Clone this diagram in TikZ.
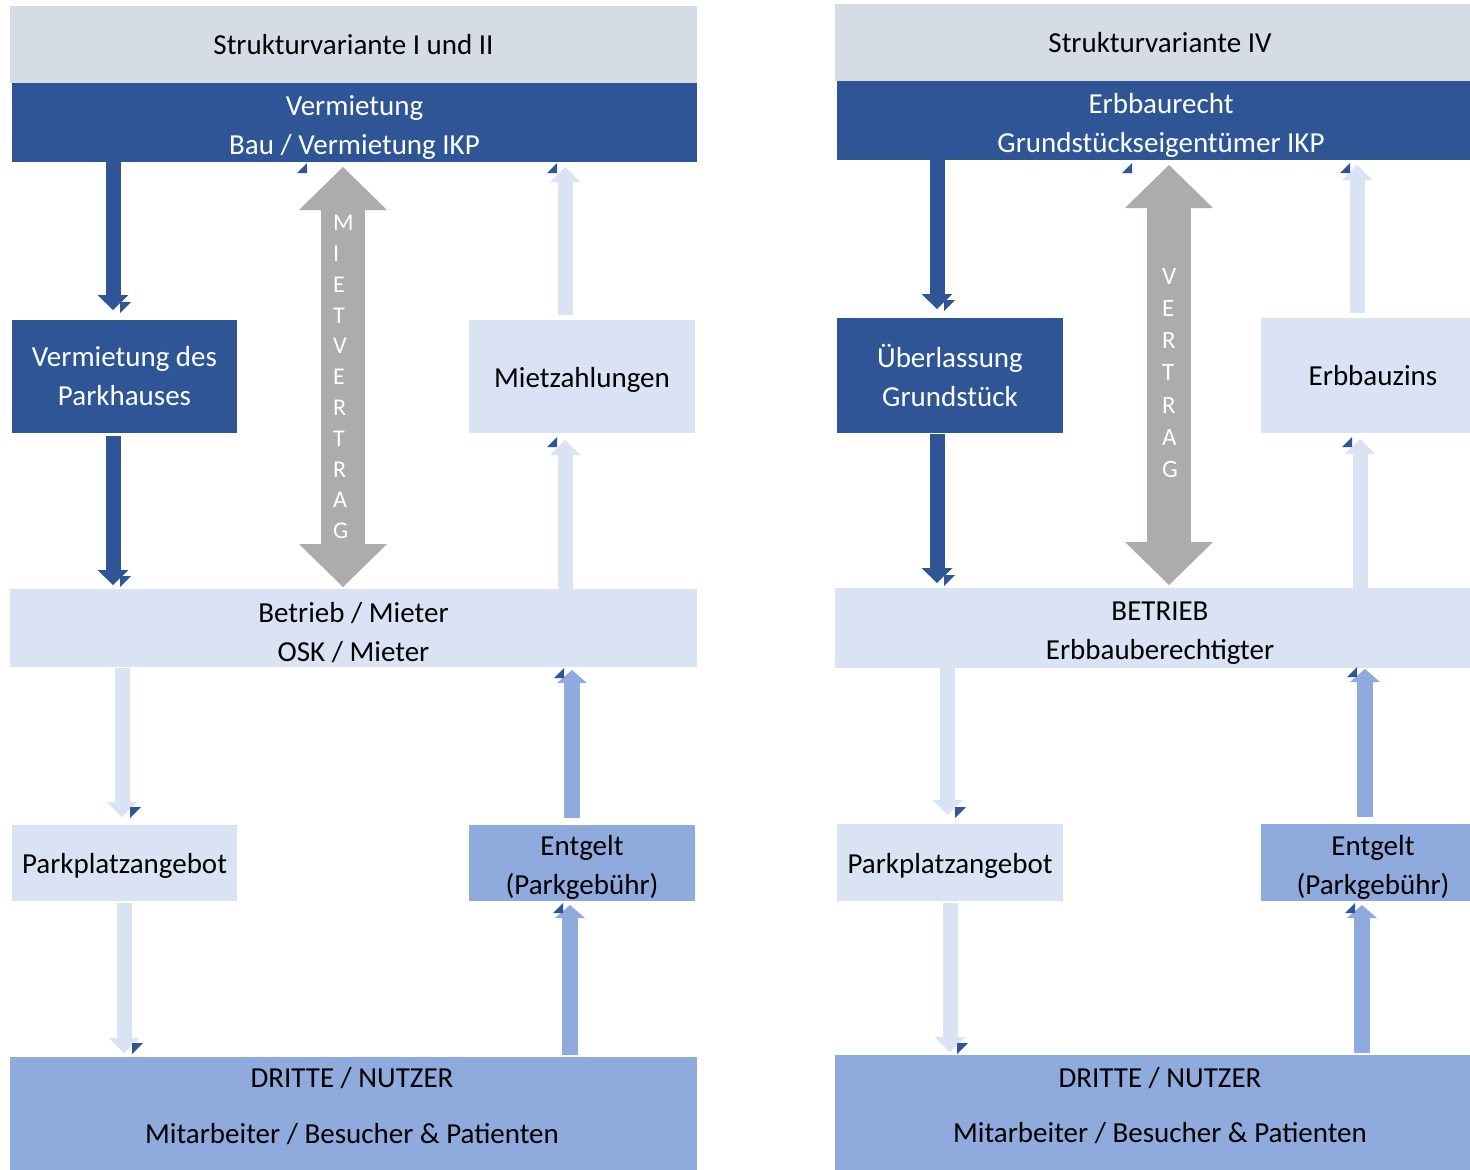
\documentclass[tikz,border=0pt]{standalone}
\usepackage{fontspec}
\setmainfont{Carlito}
\usetikzlibrary{arrows.meta,calc}
\definecolor{hdr}{HTML}{D6DCE5}
\definecolor{dblue}{HTML}{2F5597}
\definecolor{lblue}{HTML}{DAE3F3}
\definecolor{mblue}{HTML}{8FAADC}
\definecolor{garrow}{HTML}{AEABAB}
\newcommand\mytopstrut{\rule{0pt}{29pt}}
\begin{document}
\begin{tikzpicture}[x=1pt,y=-1pt,
  box/.style={rectangle, inner sep=0pt, outer sep=0pt, anchor=north west, align=center,
              font=\fontsize{29}{39}\selectfont},
  hdrbox/.style={box, fill=hdr, text=black},
  darkbox/.style={box, fill=dblue, text=white},
  lightbox/.style={box, fill=lblue, text=black},
  midbox/.style={box, fill=mblue, text=black},
  lbl/.style={inner sep=0pt, font=\fontsize{29}{39}\selectfont, text=black},
  vlbl/.style={inner sep=0pt, anchor=west, align=left, text=white},
  darr/.style={draw=dblue, line width=15pt, -{Triangle[width=31pt,length=15pt,line width=0pt]}},
  larr/.style={draw=lblue, line width=15pt, -{Triangle[width=30pt,length=15pt,line width=0pt]}},
  marr/.style={draw=mblue, line width=16pt, -{Triangle[width=30pt,length=13pt,line width=0pt]}},
  garr/.style={draw=garrow, line width=44pt,
     {Triangle[width=88pt,length=43pt,line width=0pt]}-{Triangle[width=88pt,length=43pt,line width=0pt]}},
  anchortri/.style={fill=dblue},
]
\clip (0,0) rectangle (1470,1170);
\fill[white] (0,0) rectangle (1470,1170);

% ---------------- left panel ----------------
\node[hdrbox, minimum width=687pt, minimum height=77pt] (Lhead) at (10,6) {Strukturvariante I und II};
\node[darkbox, minimum width=685pt, minimum height=79pt] (Ltop) at (12,83) {\mytopstrut Vermietung\\Bau / Vermietung IKP};
\node[darkbox, minimum width=225pt, minimum height=113pt] (Lvp) at (12,320) {Vermietung des\\Parkhauses};
\node[lightbox, minimum width=226pt, minimum height=113pt] (Lmz) at (469,320) {\rule{0pt}{26pt}Mietzahlungen};
\node[lightbox, minimum width=687pt, minimum height=78pt] (Lbet) at (10,589) {\mytopstrut Betrieb / Mieter\\OSK / Mieter};
\node[lightbox, minimum width=225pt, minimum height=76pt] (Lpp) at (12,825) {\rule{0pt}{26pt}Parkplatzangebot};
\node[midbox, minimum width=226pt, minimum height=76pt] (Lent) at (469,825) {\mytopstrut Entgelt\\(Parkgebühr)};
\node[midbox, minimum width=687pt, minimum height=120pt] (Ldr) at (10,1057) {};
\node[lbl] (LdrA) at (352,1078) {DRITTE / NUTZER};
\node[lbl] (LdrB) at (352,1134) {Mitarbeiter / Besucher \& Patienten};

\coordinate (xa) at (113,0);
\coordinate (xb) at (343,0);
\coordinate (xc) at (565,0);
\coordinate (xd) at (122,0);
\coordinate (xe) at (124,0);
\coordinate (xf) at (572,0);
\coordinate (xg) at (570,0);

\draw[darr] (Ltop.south -| xa) -- ($(Lvp.north -| xa)+(0,-10)$);
\draw[darr] ($(Lvp.south -| xa)+(0,3)$) -- ($(Lbet.north -| xa)+(0,-4)$);
\draw[garr] ($(Ltop.south -| xb)+(0,5)$) -- ($(Lbet.north -| xb)+(0,-2)$);
\node[vlbl, font=\fontsize{24}{30.8}\selectfont] (Lvt) at (333,377) {M\\I\\E\\T\\V\\E\\R\\T\\R\\A\\G};
\draw[larr] ($(Lmz.north -| xc)+(0,-5)$) -- ($(Ltop.south -| xc)+(0,5)$);
\draw[larr] (Lbet.north -| xc) -- ($(Lmz.south -| xc)+(0,7)$);
\draw[larr] ($(Lbet.south -| xd)+(0,1)$) -- ($(Lpp.north -| xd)+(0,-8)$);
\draw[larr] ($(Lpp.south -| xe)+(0,2)$) -- ($(Ldr.north -| xe)+(0,-4)$);
\draw[marr] ($(Lent.north -| xf)+(0,-7)$) -- ($(Lbet.south -| xf)+(0,3)$);
\draw[marr] ($(Ldr.north -| xg)+(0,-2)$) -- ($(Lent.south -| xg)+(0,4)$);

% anchor marks (left)
\foreach \x/\y in {120/302, 120/576, 130/807, 132/1043}
  \fill[anchortri] (\x,\y) -- ++(11,0) -- ++(-11,11) -- cycle;
\foreach \x/\y in {307/173, 557/173, 557/447, 564/678, 563/913}
  \fill[anchortri] (\x,\y) -- ++(0,-10) -- ++(-10,10) -- cycle;

% ---------------- right panel ----------------
\node[hdrbox, minimum width=650pt, minimum height=77pt] (Rhead) at (835,4) {Strukturvariante IV};
\node[darkbox, minimum width=648pt, minimum height=79pt] (Rtop) at (837,81) {\mytopstrut Erbbaurecht\\Grundstückseigentümer IKP};
\node[darkbox, minimum width=226pt, minimum height=115pt] (Rub) at (837,318) {Überlassung\\Grundstück};
\node[lightbox, minimum width=224pt, minimum height=115pt] (Rez) at (1261,318) {Erbbauzins};
\node[lightbox, minimum width=650pt, minimum height=80pt] (Rbet) at (835,588) {\mytopstrut BETRIEB\\Erbbauberechtigter};
\node[lightbox, minimum width=226pt, minimum height=77pt] (Rpp) at (837,824) {\rule{0pt}{26pt}Parkplatzangebot};
\node[midbox, minimum width=224pt, minimum height=77pt] (Rent) at (1261,824) {\mytopstrut Entgelt\\(Parkgebühr)};
\node[midbox, minimum width=650pt, minimum height=120pt] (Rdr) at (835,1055) {};
\node[lbl] (RdrA) at (1160,1078) {DRITTE / NUTZER};
\node[lbl] (RdrB) at (1160,1133) {Mitarbeiter / Besucher \& Patienten};

\coordinate (ya) at (937,0);
\coordinate (yb) at (1169,0);
\coordinate (yc) at (1357,0);
\coordinate (yc2) at (1360,0);
\coordinate (yd) at (947.5,0);
\coordinate (ye) at (950,0);
\coordinate (yf) at (1365,0);
\coordinate (yg) at (1362,0);

\draw[darr] (Rtop.south -| ya) -- ($(Rub.north -| ya)+(0,-9)$);
\draw[darr] ($(Rub.south -| ya)+(0,1)$) -- ($(Rbet.north -| ya)+(0,-5)$);
\draw[garr] ($(Rtop.south -| yb)+(0,5)$) -- ($(Rbet.north -| yb)+(0,-3)$);
\node[vlbl, font=\fontsize{25}{32.3}\selectfont] (Rvt) at (1162,373) {V\\E\\R\\T\\R\\A\\G};
\draw[larr] ($(Rez.north -| yc)+(0,-5)$) -- ($(Rtop.south -| yc)+(0,5)$);
\draw[larr] (Rbet.north -| yc2) -- ($(Rez.south -| yc2)+(0,6)$);
\draw[larr] (Rbet.south -| yd) -- ($(Rpp.north -| yd)+(0,-9)$);
\draw[larr] ($(Rpp.south -| ye)+(0,2)$) -- ($(Rdr.north -| ye)+(0,-3)$);
\draw[marr] ($(Rent.north -| yf)+(0,-7)$) -- ($(Rbet.south -| yf)+(0,1)$);
\draw[marr] ($(Rdr.north -| yg)+(0,-2)$) -- ($(Rent.south -| yg)+(0,4)$);

% anchor marks (right)
\foreach \x/\y in {944/300, 944/575, 955/807, 957/1043}
  \fill[anchortri] (\x,\y) -- ++(11,0) -- ++(-11,11) -- cycle;
\foreach \x/\y in {1132/173, 1350/173, 1352/447, 1357/677, 1355/913}
  \fill[anchortri] (\x,\y) -- ++(0,-10) -- ++(-10,10) -- cycle;
\end{tikzpicture}
\end{document}
